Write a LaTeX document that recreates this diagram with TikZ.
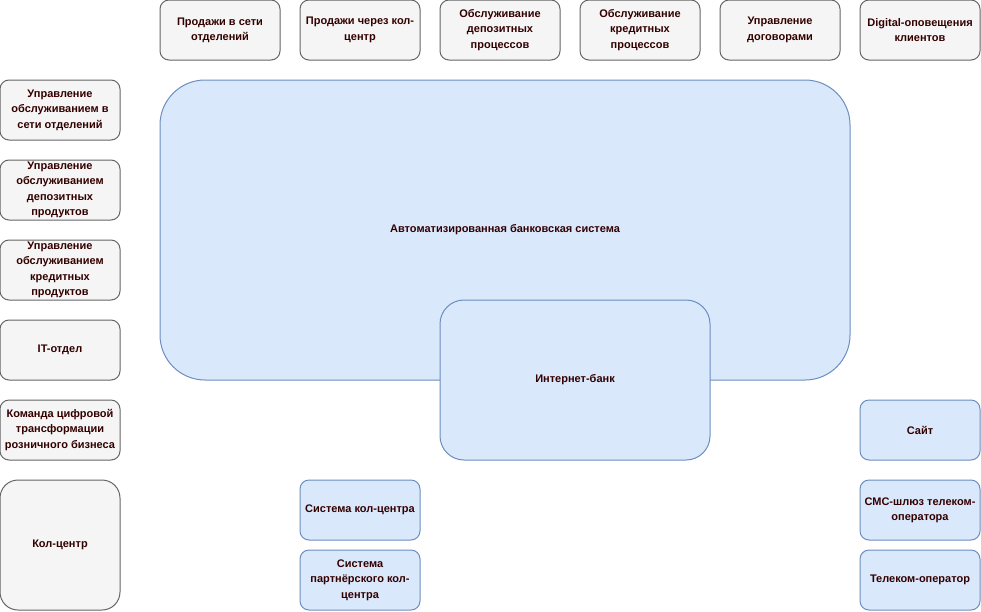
\documentclass[tikz,border=0pt]{standalone}
\usepackage{fontspec}
\setmainfont{Liberation Sans}
\definecolor{grayfill}{HTML}{F5F5F5}
\definecolor{graystroke}{HTML}{666666}
\definecolor{bluefill}{HTML}{DAE8FC}
\definecolor{bluestroke}{HTML}{6C8EBF}
\definecolor{txt}{HTML}{330000}
\begin{document}
\begin{tikzpicture}[x=0.75pt,y=-0.75pt,
  box/.style={draw, line width=0.75pt, font=\fontsize{8.25}{11.5}\selectfont\bfseries, text=txt, align=center, inner sep=0pt, outer sep=0pt},
  graybox/.style={box, fill=grayfill, draw=graystroke},
  bluebox/.style={box, fill=bluefill, draw=bluestroke},
  sz/.style n args={2}{minimum width=#1*0.75pt, minimum height=#2*0.75pt}
]
\useasboundingbox (0,0) rectangle (981,611);
% top row
\node[graybox, sz={120}{60}, rounded corners=6.75pt] (t1) at (220,30) {Продажи в сети\\отделений};
\node[graybox, sz={120}{60}, rounded corners=6.75pt] (t2) at (360,30) {Продажи через кол-\\центр};
\node[graybox, sz={120}{60}, rounded corners=6.75pt] (t3) at (500,30) {Обслуживание\\депозитных\\процессов};
\node[graybox, sz={120}{60}, rounded corners=6.75pt] (t4) at (640,30) {Обслуживание\\кредитных\\процессов};
\node[graybox, sz={120}{60}, rounded corners=6.75pt] (t5) at (780,30) {Управление\\договорами};
\node[graybox, sz={120}{60}, rounded corners=6.75pt] (t6) at (920,30) {Digital-оповещения\\клиентов};
% left column
\node[graybox, sz={120}{60}, rounded corners=6.75pt] (l1) at (60,110) {Управление\\обслуживанием в\\сети отделений};
\node[graybox, sz={120}{60}, rounded corners=6.75pt] (l2) at (60,190) {Управление\\обслуживанием\\депозитных\\продуктов};
\node[graybox, sz={120}{60}, rounded corners=6.75pt] (l3) at (60,270) {Управление\\обслуживанием\\кредитных\\продуктов};
\node[graybox, sz={120}{60}, rounded corners=6.75pt] (l4) at (60,350) {IT-отдел};
\node[graybox, sz={120}{60}, rounded corners=6.75pt] (l5) at (60,430) {Команда цифровой\\трансформации\\розничного бизнеса};
\node[graybox, sz={120}{130}, rounded corners=13.5pt] (l6) at (60,545) {Кол-центр};
% big system
\node[bluebox, sz={690}{300}, rounded corners=33.75pt] (abs) at (505,230) {Автоматизированная банковская система};
\node[bluebox, sz={270}{160}, rounded corners=18pt] (ib) at (575,380) {Интернет-банк};
% call-centre systems
\node[bluebox, sz={120}{60}, rounded corners=6.75pt] (cc1) at (360,510) {Система кол-центра};
\node[bluebox, sz={120}{60}, rounded corners=6.75pt] (cc2) at (360,580) {Система\\партнёрского кол-\\центра};
% right column
\node[bluebox, sz={120}{60}, rounded corners=6.75pt] (r1) at (920,430) {Сайт};
\node[bluebox, sz={120}{60}, rounded corners=6.75pt] (r2) at (920,510) {СМС-шлюз телеком-\\оператора};
\node[bluebox, sz={120}{60}, rounded corners=6.75pt] (r3) at (920,580) {Телеком-оператор};
\end{tikzpicture}
\end{document}
